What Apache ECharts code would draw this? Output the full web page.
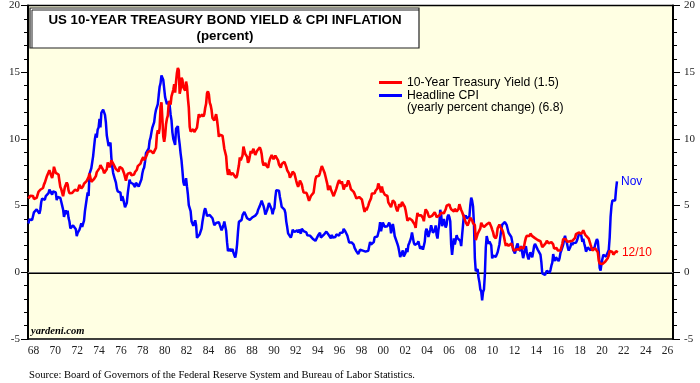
<!DOCTYPE html>
<html>
<head>
<meta charset="utf-8">
<script src="https://cdn.jsdelivr.net/npm/echarts@6/dist/echarts.min.js"></script>
<style>html,body{margin:0;padding:0;background:#fff}#c{width:700px;height:383px}</style>
</head>
<body>
<div id="c"></div>
<script>
// Year tick labels (two-digit years), one category per year 1968..2026
const yearLabels = [];
for (let y = 1968; y <= 2026; y++) yearLabels.push(String(y % 100).padStart(2, '0'));

const startYear = 1968;

// 10-Year Treasury yield, monthly, Jan 1968 .. Dec 2021 (percent)
const yieldData = [
5.53,5.56,5.74,5.64,5.87,5.72,5.50,5.42,5.46,5.58,5.70,6.03,
6.04,6.19,6.30,6.17,6.32,6.57,6.72,6.69,7.16,7.10,7.14,7.65,
7.79,7.24,7.07,7.39,7.91,7.84,7.46,7.53,7.39,7.33,6.84,6.39,
6.24,6.11,5.70,5.83,6.39,6.52,6.73,6.58,6.14,5.93,5.81,5.93,
5.95,6.08,6.07,6.19,6.13,6.11,6.11,6.21,6.55,6.48,6.28,6.36,
6.46,6.64,6.71,6.67,6.85,6.90,7.13,7.40,7.09,6.79,6.73,6.74,
6.99,6.96,7.21,7.51,7.58,7.54,7.81,8.04,8.04,7.90,7.68,7.43,
7.50,7.39,7.73,8.23,8.06,7.86,8.06,8.40,8.43,8.14,8.05,8.00,
7.74,7.79,7.73,7.56,7.90,7.86,7.83,7.77,7.59,7.41,7.29,6.87,
7.21,7.39,7.46,7.37,7.46,7.28,7.33,7.40,7.34,7.52,7.58,7.69,
7.96,8.03,8.04,8.15,8.35,8.46,8.64,8.41,8.42,8.64,8.81,9.01,
9.10,9.10,9.12,9.18,9.25,8.91,8.95,9.03,9.33,10.30,10.65,10.39,
10.80,12.41,12.75,11.47,10.18,9.78,10.25,11.10,11.51,11.75,12.68,12.84,
12.57,13.19,13.12,13.68,14.10,13.47,14.28,14.94,15.32,15.15,13.39,13.72,
14.59,14.43,13.86,13.87,13.62,14.30,13.95,13.06,12.34,10.91,10.55,10.54,
10.46,10.72,10.51,10.40,10.38,10.85,11.38,11.85,11.65,11.54,11.69,11.83,
11.67,11.84,12.32,12.63,13.41,13.56,13.36,12.72,12.52,12.16,11.57,11.50,
11.38,11.51,11.86,11.43,10.85,10.16,10.31,10.33,10.37,10.24,9.78,9.26,
9.19,8.70,7.78,7.30,7.71,7.80,7.30,7.17,7.45,7.43,7.25,7.11,
7.08,7.25,7.25,8.02,8.61,8.40,8.45,8.76,9.42,9.52,8.86,8.99,
8.67,8.21,8.37,8.72,9.09,8.92,9.06,9.26,8.98,8.80,8.96,9.11,
9.09,9.17,9.36,9.18,8.86,8.28,8.02,8.11,8.19,8.01,7.87,7.84,
8.21,8.47,8.59,8.79,8.76,8.48,8.47,8.75,8.89,8.72,8.39,8.08,
8.09,7.85,8.11,8.04,8.07,8.28,8.27,7.90,7.65,7.53,7.42,7.09,
7.03,7.34,7.54,7.48,7.39,7.26,6.84,6.59,6.42,6.59,6.87,6.77,
6.60,6.26,5.98,5.97,6.04,5.96,5.81,5.68,5.36,5.33,5.72,5.77,
5.75,5.97,6.48,6.97,7.18,7.10,7.30,7.24,7.46,7.74,7.96,7.81,
7.78,7.47,7.20,7.06,6.63,6.17,6.28,6.49,6.20,6.04,5.93,5.71,
5.65,5.81,6.27,6.51,6.74,6.91,6.87,6.64,6.83,6.53,6.20,6.30,
6.58,6.42,6.69,6.89,6.71,6.49,6.22,6.30,6.21,6.03,5.88,5.81,
5.54,5.57,5.65,5.64,5.65,5.50,5.46,5.34,4.81,4.53,4.83,4.65,
4.72,5.00,5.23,5.18,5.54,5.90,5.79,5.94,5.92,6.11,6.03,6.28,
6.66,6.52,6.26,5.99,6.44,6.10,6.05,5.83,5.80,5.74,5.72,5.24,
5.16,5.10,4.89,5.14,5.39,5.28,5.24,4.97,4.73,4.57,4.65,5.09,
5.04,4.91,5.28,5.21,5.16,4.93,4.65,4.26,3.87,3.94,4.05,4.03,
4.05,3.90,3.81,3.96,3.57,3.33,3.98,4.45,4.27,4.29,4.30,4.27,
4.15,4.08,3.83,4.35,4.72,4.73,4.50,4.28,4.13,4.10,4.19,4.23,
4.22,4.17,4.50,4.34,4.14,4.00,4.18,4.26,4.20,4.46,4.54,4.47,
4.42,4.57,4.72,4.99,5.11,5.11,5.09,4.88,4.72,4.73,4.60,4.56,
4.76,4.72,4.56,4.69,4.75,5.10,5.00,4.67,4.52,4.53,4.15,4.10,
3.74,3.74,3.51,3.68,3.88,4.10,4.01,3.89,3.69,3.81,3.53,2.42,
2.52,2.87,2.82,2.93,3.29,3.72,3.56,3.59,3.40,3.39,3.40,3.59,
3.73,3.69,3.73,3.85,3.42,3.20,3.01,2.70,2.65,2.54,2.76,3.29,
3.39,3.58,3.41,3.46,3.17,3.00,3.00,2.30,1.98,2.15,2.01,1.98,
1.97,1.97,2.17,2.05,1.80,1.62,1.53,1.68,1.72,1.75,1.65,1.72,
1.91,1.98,1.96,1.76,1.93,2.30,2.58,2.74,2.81,2.62,2.72,2.90,
2.86,2.71,2.72,2.71,2.56,2.60,2.54,2.42,2.53,2.30,2.33,2.21,
1.88,1.98,2.04,1.94,2.20,2.36,2.32,2.17,2.17,2.07,2.26,2.24,
2.09,1.78,1.89,1.81,1.81,1.64,1.50,1.56,1.63,1.76,2.14,2.49,
2.43,2.42,2.48,2.30,2.30,2.19,2.32,2.21,2.20,2.36,2.35,2.40,
2.58,2.86,2.84,2.87,2.98,2.91,2.89,2.89,3.00,3.15,3.12,2.83,
2.71,2.68,2.57,2.53,2.40,2.07,2.06,1.63,1.70,1.71,1.81,1.86,
1.76,1.50,0.87,0.66,0.67,0.73,0.62,0.65,0.68,0.79,0.87,0.93,
1.08,1.26,1.61,1.64,1.62,1.52,1.32,1.28,1.37,1.58,1.56,1.50
];

// Headline CPI, yearly percent change, monthly, Jan 1968 .. Nov 2021
const cpiData = [
3.65,3.97,3.94,3.93,3.92,4.20,4.49,4.45,4.43,4.71,4.70,4.68,
4.40,4.67,5.25,5.52,5.51,5.48,5.44,5.71,5.70,5.68,5.93,6.20,
6.18,6.15,5.82,6.06,6.04,6.01,5.98,5.41,5.66,5.64,5.61,5.57,
5.29,5.00,4.71,4.16,4.40,4.64,4.36,4.62,4.08,3.81,3.29,3.27,
3.27,3.51,3.50,3.49,3.23,2.71,2.95,2.94,3.19,3.42,3.67,3.41,
3.65,3.87,4.59,5.06,5.53,5.99,5.72,7.38,7.36,7.80,8.25,8.71,
9.39,10.02,10.39,10.09,10.71,10.86,11.51,10.86,11.95,12.06,12.20,12.34,
11.80,11.23,10.25,10.21,9.47,9.39,9.72,8.60,7.91,7.44,7.38,6.94,
6.72,6.29,6.07,6.05,6.20,5.97,5.35,5.71,5.49,5.46,4.88,4.86,
5.22,5.91,6.44,6.95,6.73,6.87,6.83,6.62,6.60,6.39,6.72,6.70,
6.84,6.43,6.55,6.50,6.97,7.41,7.70,7.86,8.31,8.93,8.89,9.02,
9.28,9.86,10.09,10.49,10.85,10.89,11.26,11.82,12.18,12.07,12.61,13.29,
13.91,14.18,14.76,14.73,14.41,14.38,13.13,12.87,12.60,12.77,12.65,12.52,
11.83,11.41,10.49,10.00,9.78,9.55,10.76,10.80,10.95,10.14,9.59,8.92,
8.39,7.62,6.78,6.51,6.68,7.06,6.44,5.85,5.04,5.14,4.59,3.83,
3.71,3.49,3.60,3.90,3.55,2.58,2.46,2.56,2.86,2.85,3.27,3.79,
4.19,4.60,4.80,4.56,4.23,4.22,4.20,4.29,4.27,4.26,4.05,3.95,
3.53,3.52,3.70,3.69,3.77,3.76,3.55,3.35,3.14,3.23,3.51,3.80,
3.89,3.11,2.26,1.59,1.49,1.77,1.58,1.57,1.75,1.47,1.28,1.10,
1.46,2.10,3.03,3.78,3.86,3.65,3.93,4.28,4.36,4.53,4.53,4.43,
4.05,3.94,3.93,3.93,3.89,3.96,4.13,4.02,4.17,4.25,4.25,4.42,
4.67,4.83,4.98,5.11,5.36,5.17,4.98,4.71,4.34,4.49,4.66,4.65,
5.20,5.26,5.23,4.71,4.36,4.67,4.82,5.62,6.16,6.29,6.27,6.11,
5.65,5.31,4.90,4.89,4.95,4.70,4.45,3.80,3.39,2.92,2.99,3.06,
2.60,2.82,3.19,3.18,3.02,3.11,3.16,3.15,2.99,3.20,3.05,2.90,
3.26,3.25,3.09,3.23,3.22,3.00,2.78,2.77,2.69,2.75,2.68,2.75,
2.52,2.52,2.51,2.36,2.29,2.49,2.77,2.90,2.96,2.61,2.67,2.67,
2.80,2.86,2.85,3.05,3.19,3.04,2.76,2.62,2.54,2.81,2.61,2.54,
2.73,2.65,2.84,2.90,2.89,2.75,2.95,2.88,3.00,2.99,3.26,3.32,
3.04,3.03,2.76,2.50,2.23,2.30,2.23,2.23,2.15,2.08,1.83,1.70,
1.57,1.44,1.37,1.44,1.69,1.68,1.68,1.62,1.49,1.49,1.55,1.61,
1.67,1.61,1.73,2.28,2.09,1.96,2.14,2.26,2.63,2.56,2.62,2.68,
2.74,3.22,3.76,3.07,3.19,3.73,3.66,3.41,3.45,3.45,3.45,3.39,
3.73,3.53,2.92,3.27,3.62,3.25,2.72,2.72,2.65,2.13,1.90,1.55,
1.14,1.14,1.48,1.64,1.18,1.07,1.46,1.80,1.51,2.03,2.20,2.38,
2.60,2.98,3.02,2.22,2.06,2.11,2.11,2.16,2.32,2.04,1.77,1.88,
1.93,1.69,1.74,2.29,3.05,3.27,2.99,2.65,2.54,3.19,3.52,3.26,
2.97,3.01,3.15,3.51,2.80,2.53,3.17,3.64,4.69,4.35,3.46,3.42,
3.99,3.60,3.36,3.55,4.17,4.32,4.15,3.82,2.06,1.31,1.97,2.54,
2.08,2.42,2.78,2.57,2.69,2.69,2.36,1.97,2.76,3.54,4.31,4.08,
4.28,4.03,3.98,3.94,4.18,5.02,5.60,5.37,4.94,3.66,1.07,0.09,
0.03,0.24,-0.38,-0.74,-1.28,-1.43,-2.10,-1.48,-1.29,-0.18,1.84,2.72,
2.63,2.14,2.31,2.24,2.02,1.05,1.24,1.15,1.14,1.17,1.14,1.50,
1.63,2.11,2.68,3.16,3.57,3.56,3.63,3.77,3.87,3.53,3.39,2.96,
2.93,2.87,2.65,2.30,1.70,1.66,1.41,1.69,1.99,2.16,1.76,1.74,
1.59,1.98,1.47,1.06,1.36,1.75,1.96,1.52,1.18,0.96,1.24,1.50,
1.58,1.13,1.51,1.95,2.13,2.07,1.99,1.70,1.66,1.66,1.32,0.76,
-0.09,-0.03,-0.07,-0.20,-0.04,0.12,0.17,0.20,-0.04,0.17,0.50,0.73,
1.37,1.02,0.85,1.13,1.02,1.01,0.84,1.06,1.46,1.64,1.69,2.07,
2.50,2.74,2.38,2.20,1.87,1.63,1.73,1.94,2.23,2.04,2.20,2.11,
2.07,2.21,2.36,2.46,2.80,2.87,2.95,2.70,2.28,2.52,2.18,1.91,
1.55,1.52,1.86,2.00,1.79,1.65,1.81,1.75,1.71,1.76,2.05,2.29,
2.49,2.33,1.54,0.33,0.12,0.65,0.99,1.31,1.37,1.18,1.17,1.36,
1.40,1.68,2.62,4.16,4.99,5.39,5.37,5.25,5.39,6.22,6.81
];

const yTickMin = -5, yTickMax = 20, yTickStep = 5;

function toPoints(arr) {
  return arr.map((v, i) => [startYear + (i + 0.5) / 12, v]);
}

const chart = echarts.init(document.getElementById('c'), null, {renderer: 'canvas'});

const serifFont = 'Liberation Serif';
const sansFont = 'Liberation Sans';

function yAxisCfg(pos, margin) {
  return {
    type: 'value', position: pos, min: yTickMin, max: yTickMax, interval: yTickStep,
    axisLine: {show: true, lineStyle: {color: '#000', width: 2}},
    axisTick: {show: true, length: 7, lineStyle: {color: '#000', width: 1}},
    minorTick: {show: true, splitNumber: 5, length: 4, lineStyle: {color: '#000', width: 1}},
    splitLine: {show: false},
    axisLabel: {fontFamily: serifFont, fontSize: 11, color: '#222', margin: margin}
  };
}

chart.setOption({
  animation: false,
  backgroundColor: '#fff',
  grid: {left: 28, right: 27, top: 5, bottom: 44, show: true, backgroundColor: '#FFFFE3', borderColor: '#000', borderWidth: 1.5},
  xAxis: [
    {
      type: 'category', data: yearLabels, boundaryGap: true, position: 'bottom',
      axisLine: {lineStyle: {color: '#000', width: 2}},
      axisTick: {interval: 0, length: 4, lineStyle: {color: '#000', width: 1.5}},
      axisLabel: {interval: 1, fontFamily: serifFont, fontSize: 11.5, color: '#222', margin: 6},
      splitLine: {show: false}
    },
    {type: 'value', min: 1968, max: 2027, show: false}
  ],
  yAxis: [yAxisCfg('left', 8), yAxisCfg('right', 11)],
  legend: {
    orient: 'vertical', left: 379, top: 76, itemGap: 0, padding: 0,
    icon: 'rect', itemWidth: 23, itemHeight: 3,
    selectedMode: false,
    textStyle: {fontFamily: sansFont, fontSize: 12.2, color: '#000', lineHeight: 13},
    data: ['10-Year Treasury Yield (1.5)', 'Headline CPI']
  },
  series: [
    {
      name: 'Headline CPI', type: 'line', xAxisIndex: 1, yAxisIndex: 0,
      data: toPoints(cpiData), showSymbol: false, symbol: 'none',
      lineStyle: {color: '#0000FF', width: 2.5}, itemStyle: {color: '#0000FF'},
      endLabel: {show: true, formatter: 'Nov', color: '#0000FF', fontFamily: sansFont, fontSize: 12, distance: 4},
      z: 3
    },
    {
      name: '10-Year Treasury Yield (1.5)', type: 'line', xAxisIndex: 1, yAxisIndex: 0,
      data: toPoints(yieldData), showSymbol: false, symbol: 'none',
      lineStyle: {color: '#FF0000', width: 2.6}, itemStyle: {color: '#FF0000'},
      endLabel: {show: true, formatter: '12/10', color: '#FF0000', fontFamily: sansFont, fontSize: 12, distance: 4},
      markLine: {
        silent: true, symbol: 'none', label: {show: false},
        lineStyle: {color: '#777', width: 1.2, type: 'solid'},
        data: [{yAxis: 0}], z: 1
      },
      z: 4
    }
  ],
  graphic: [
    {type: 'rect', shape: {x: 30, y: 8, width: 389, height: 40}, style: {fill: '#fff', stroke: '#222', lineWidth: 1.2}, z: 10},
    {type: 'polyline', shape: {points: [[32, 48], [32, 10], [419, 10]]}, style: {stroke: '#222', lineWidth: 1, fill: null}, z: 11},
    {type: 'text', x: 225, y: 20, style: {text: 'US 10-YEAR TREASURY BOND YIELD & CPI INFLATION', fontFamily: sansFont, fontWeight: 'bold', fontSize: 13.3, fill: '#000', textAlign: 'center', textVerticalAlign: 'middle'}, z: 12},
    {type: 'text', x: 225, y: 36, style: {text: '(percent)', fontFamily: sansFont, fontWeight: 'bold', fontSize: 13.3, fill: '#000', textAlign: 'center', textVerticalAlign: 'middle'}, z: 12},
    {type: 'text', x: 407, y: 108, style: {text: '(yearly percent change) (6.8)', fontFamily: sansFont, fontSize: 12.2, fill: '#000', textAlign: 'left', textVerticalAlign: 'middle'}, z: 12},
    {type: 'text', x: 31, y: 331, style: {text: 'yardeni.com', fontFamily: serifFont, fontWeight: 'bold', fontStyle: 'italic', fontSize: 10.5, fill: '#000', textAlign: 'left', textVerticalAlign: 'middle'}, z: 12},
    {type: 'text', x: 29, y: 375, style: {text: 'Source: Board of Governors of the Federal Reserve System and Bureau of Labor Statistics.', fontFamily: serifFont, fontSize: 10.6, fill: '#000', textAlign: 'left', textVerticalAlign: 'middle'}, z: 12}
  ]
});
</script>
</body>
</html>
